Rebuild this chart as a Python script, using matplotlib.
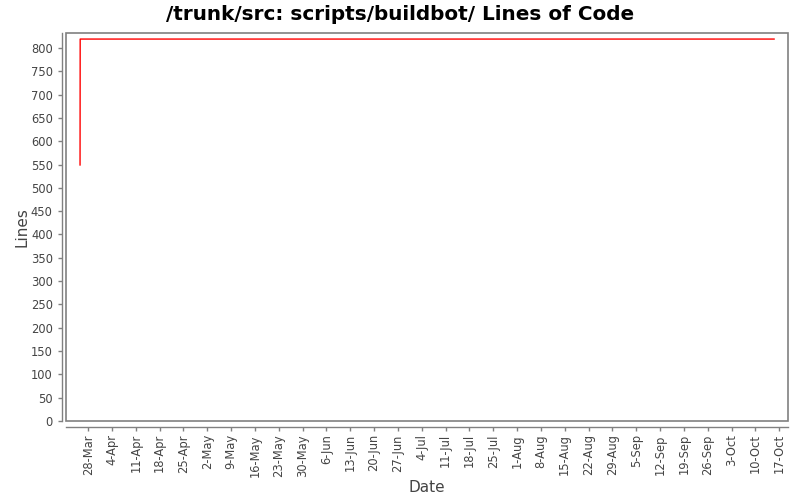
import matplotlib
matplotlib.use("Agg")
matplotlib.rcParams["font.family"] = "DejaVu Sans"
import matplotlib.pyplot as plt
from matplotlib.patches import Rectangle
import pandas as pd

# Lines of code over time
times = ["2005-03-25 15:00", "2005-03-25 16:00", "2005-10-15 12:00"]
lines = [549, 819, 819]

# weekly date ticks
tick_start = "2005-03-28"
tick_end = "2005-10-17"
x_min = "2005-03-21 12:00"
x_max = "2005-10-19 14:00"

title = "/trunk/src: scripts/buildbot/ Lines of Code"
grey = "#808080"
text_grey = "#444444"

fig = plt.figure(figsize=(8, 5), dpi=100)
ax = fig.add_axes([0.0825, 0.158, 0.9025, 0.776])

t = pd.to_datetime(times)
ax.plot(t, lines, color="#ff0000", linewidth=1.0)

ax.set_xlim(pd.Timestamp(x_min), pd.Timestamp(x_max))
ax.set_ylim(0, 832)
ax.set_yticks(range(0, 801, 50))

ticks = pd.date_range(tick_start, tick_end, freq="7D")
ax.set_xticks(ticks.to_pydatetime())
ax.set_xticklabels([f"{d.day}-{d.strftime('%b')}" for d in ticks])

# axis lines set out from the plot area, like JFreeChart
for side in ["top", "right"]:
    ax.spines[side].set_visible(False)
ax.spines["left"].set_position(("outward", 3))
ax.spines["bottom"].set_position(("outward", 4))
for side in ["left", "bottom"]:
    ax.spines[side].set_color(grey)
    ax.spines[side].set_linewidth(1.0)
ax.add_patch(Rectangle((0, 0), 1, 1, transform=ax.transAxes, fill=False,
                       edgecolor=grey, linewidth=1.2, clip_on=False, zorder=5))

ax.tick_params(axis="both", colors=grey, labelcolor=text_grey, labelsize=8.3, length=3, width=1)
ax.tick_params(axis="x", labelrotation=90, pad=2.5)

ax.set_xlabel("Date", fontsize=11, color=text_grey, labelpad=2)
ax.set_ylabel("Lines", fontsize=11, color=text_grey, labelpad=1)
fig.suptitle(title, fontsize=14.4, fontweight="bold", y=0.99)

fig.savefig("out.png", dpi=100)
